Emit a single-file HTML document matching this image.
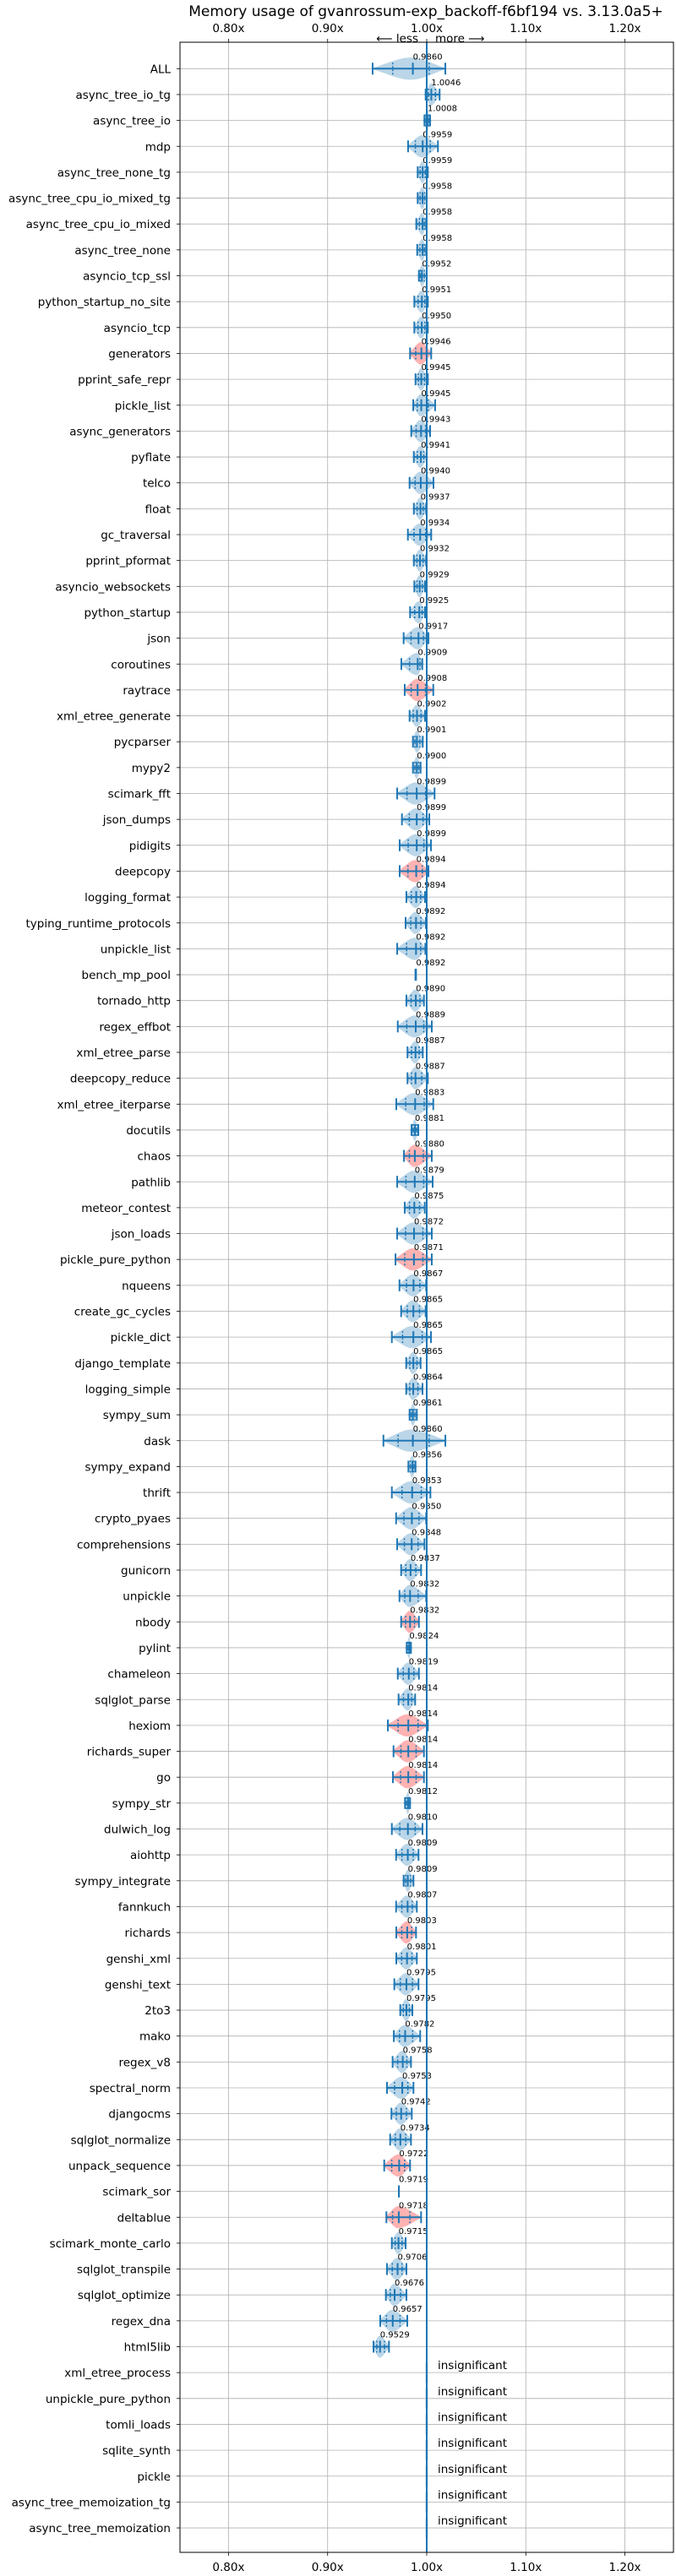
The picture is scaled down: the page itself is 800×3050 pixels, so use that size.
<!DOCTYPE html>
<html><head><meta charset="utf-8"><style>
html,body{margin:0;padding:0;background:#fff;}
svg{display:block;font-family:"DejaVu Sans","Liberation Sans",sans-serif;}
</style></head><body>
<svg id="chart" width="800" height="3050" viewBox="0 0 800 3050" xmlns="http://www.w3.org/2000/svg">
<rect x="0" y="0" width="800" height="3050" fill="#fff"/>
<text x="504" y="19" text-anchor="middle" font-size="17">Memory usage of gvanrossum-exp_backoff-f6bf194 vs. 3.13.0a5+</text>
<g id="grid"></g><g id="marks"></g><g id="axes"></g>
<text x="495" y="50" text-anchor="end" font-size="13.5">⟵ less</text>
<text x="515" y="50" text-anchor="start" font-size="13.5">more ⟶</text>
</svg>
<script>
const benchmarks = ["ALL","async_tree_io_tg","async_tree_io","mdp","async_tree_none_tg","async_tree_cpu_io_mixed_tg","async_tree_cpu_io_mixed","async_tree_none","asyncio_tcp_ssl","python_startup_no_site","asyncio_tcp","generators","pprint_safe_repr","pickle_list","async_generators","pyflate","telco","float","gc_traversal","pprint_pformat","asyncio_websockets","python_startup","json","coroutines","raytrace","xml_etree_generate","pycparser","mypy2","scimark_fft","json_dumps","pidigits","deepcopy","logging_format","typing_runtime_protocols","unpickle_list","bench_mp_pool","tornado_http","regex_effbot","xml_etree_parse","deepcopy_reduce","xml_etree_iterparse","docutils","chaos","pathlib","meteor_contest","json_loads","pickle_pure_python","nqueens","create_gc_cycles","pickle_dict","django_template","logging_simple","sympy_sum","dask","sympy_expand","thrift","crypto_pyaes","comprehensions","gunicorn","unpickle","nbody","pylint","chameleon","sqlglot_parse","hexiom","richards_super","go","sympy_str","dulwich_log","aiohttp","sympy_integrate","fannkuch","richards","genshi_xml","genshi_text","2to3","mako","regex_v8","spectral_norm","djangocms","sqlglot_normalize","unpack_sequence","scimark_sor","deltablue","scimark_monte_carlo","sqlglot_transpile","sqlglot_optimize","regex_dna","html5lib","xml_etree_process","unpickle_pure_python","tomli_loads","sqlite_synth","pickle","async_tree_memoization_tg","async_tree_memoization"];
const means = [0.9860,1.0046,1.0008,0.9959,0.9959,0.9958,0.9958,0.9958,0.9952,0.9951,0.9950,0.9946,0.9945,0.9945,0.9943,0.9941,0.9940,0.9937,0.9934,0.9932,0.9929,0.9925,0.9917,0.9909,0.9908,0.9902,0.9901,0.9900,0.9899,0.9899,0.9899,0.9894,0.9894,0.9892,0.9892,0.9892,0.9890,0.9889,0.9887,0.9887,0.9883,0.9881,0.9880,0.9879,0.9875,0.9872,0.9871,0.9867,0.9865,0.9865,0.9865,0.9864,0.9861,0.9860,0.9856,0.9853,0.9850,0.9848,0.9837,0.9832,0.9832,0.9824,0.9819,0.9814,0.9814,0.9814,0.9814,0.9812,0.9810,0.9809,0.9809,0.9807,0.9803,0.9801,0.9795,0.9795,0.9782,0.9758,0.9753,0.9742,0.9734,0.9722,0.9719,0.9718,0.9715,0.9706,0.9676,0.9657,0.9529,null,null,null,null,null,null,null];
const mins = [0.9454,0.9989,0.9977,0.9812,0.9909,0.9909,0.9895,0.9904,0.9921,0.9875,0.9875,0.9832,0.9887,0.9864,0.9844,0.9870,0.9827,0.9870,0.9810,0.9870,0.9875,0.9832,0.9767,0.9744,0.9778,0.9827,0.9861,0.9861,0.9702,0.9750,0.9727,0.9727,0.9795,0.9787,0.9702,0.9887,0.9795,0.9708,0.9806,0.9806,0.9693,0.9847,0.9770,0.9702,0.9778,0.9702,0.9685,0.9725,0.9742,0.9648,0.9793,0.9793,0.9827,0.9563,0.9815,0.9648,0.9691,0.9702,0.9742,0.9725,0.9742,0.9798,0.9708,0.9716,0.9608,0.9665,0.9659,0.9781,0.9648,0.9691,0.9767,0.9691,0.9693,0.9693,0.9673,0.9733,0.9668,0.9656,0.9599,0.9644,0.9631,0.9571,0.9719,0.9593,0.9648,0.9599,0.9588,0.9531,0.9463];
const maxs = [1.0188,1.0130,1.0034,1.0113,1.0011,1.0000,0.9994,0.9994,1.0000,1.0011,1.0011,1.0045,1.0011,1.0085,1.0034,1.0000,1.0068,0.9994,1.0045,0.9994,0.9983,0.9983,1.0017,0.9955,1.0066,0.9983,0.9960,0.9938,1.0079,1.0026,1.0043,1.0017,0.9983,0.9991,0.9986,0.9887,0.9972,1.0051,0.9960,1.0011,1.0066,0.9915,1.0051,1.0060,0.9980,1.0051,1.0051,0.9994,0.9989,1.0043,0.9938,0.9957,0.9900,1.0188,0.9887,1.0037,0.9994,0.9977,0.9943,0.9994,0.9921,0.9841,0.9921,0.9883,1.0011,0.9972,0.9972,0.9832,0.9957,0.9917,0.9866,0.9900,0.9892,0.9900,0.9917,0.9855,0.9934,0.9841,0.9866,0.9849,0.9841,0.9832,0.9719,0.9943,0.9787,0.9795,0.9795,0.9804,0.9619];
const redRows = ["generators","raytrace","deepcopy","chaos","pickle_pure_python","nbody","hexiom","richards_super","go","richards","unpack_sequence","deltablue"];
const xTicks = [0.8,0.9,1.0,1.1,1.2];
const xTickLabels = ["0.80x","0.90x","1.00x","1.10x","1.20x"];

const NS="http://www.w3.org/2000/svg";
const PL=213, PR=797, PT=50, PB=3022, XMIN=0.751, XMAX=1.249;
const xS = v => PL + (v-XMIN)/(XMAX-XMIN)*(PR-PL);
const yS = i => 81.3 + i*30.65;
function mk(tag, attrs, parent){const e=document.createElementNS(NS,tag);for(const k in attrs)e.setAttribute(k,attrs[k]);parent.appendChild(e);return e;}
const grid=document.getElementById('grid'), marks=document.getElementById('marks'), axes=document.getElementById('axes');

xTicks.forEach((t,i)=>{
  const l=mk('line',{x1:xS(t),x2:xS(t),y1:PT,y2:PB,stroke:'#b0b0b0','stroke-width':0.8},grid);
  
  
  [[PT,PT-4,PT-10],[PB,PB+4,PB+20]].forEach(([a,b,ty])=>{
    const tk=mk('line',{x1:xS(t),x2:xS(t),y1:a,y2:b,stroke:'#000','stroke-width':0.8},axes);
    
    
    const tx=mk('text',{x:xS(t),y:(a===PT?38:3044),'text-anchor':'middle','font-size':13.5},axes);
    
    
    tx.textContent=xTickLabels[i];
  });
});
benchmarks.forEach((b,i)=>{
  const y=yS(i);
  const g=mk('line',{x1:PL,x2:PR,y1:y,y2:y,stroke:'#b0b0b0','stroke-width':0.8},grid);
  
  
  const tk=mk('line',{x1:PL-4,x2:PL,y1:y,y2:y,stroke:'#000','stroke-width':0.8},axes);
  
  
  const t=mk('text',{x:PL-11,y:y+5,'text-anchor':'end','font-size':13.5},axes);
  
  
  t.textContent=b;
});
const C='#1f77b4';
benchmarks.forEach((b,i)=>{
  const y=yS(i), m=means[i];
  if(m===null){
    const r=mk('rect',{x:xS(1.0)-1.5,y:y-12,width:3,height:24,fill:C,opacity:0.3},marks);
    
    
    const t=mk('text',{x:xS(1.0)+13,y:y-4,'font-size':13.5},marks);
    
    
    t.textContent='insignificant';
    return;
  }
  const a=xS(mins[i]), z=xS(maxs[i]), c=xS(m), h=13;
  const red=redRows.includes(b);
  if(z-a>1){
    const p=mk('path',{d:`M${a-2},${y} C${a+(c-a)*0.4},${y-h*0.5} ${c-(c-a)*0.3},${y-h*1.1} ${c},${y-h} C${c+(z-c)*0.4},${y-h*0.9} ${z-(z-c)*0.3},${y-h*0.3} ${z+2},${y} C${z-(z-c)*0.3},${y+h*0.3} ${c+(z-c)*0.4},${y+h*0.9} ${c},${y+h} C${c-(c-a)*0.3},${y+h*1.1} ${a+(c-a)*0.4},${y+h*0.5} ${a-2},${y} Z`,fill:red?'#ff0000':C,opacity:0.3},marks);
    
    
  }
  const w=mk('line',{x1:a,x2:z,y1:y,y2:y,stroke:C,'stroke-width':2},marks);
  
  
  [a,z].forEach(x=>{
    const cp=mk('line',{x1:x,x2:x,y1:y-7,y2:y+7,stroke:C,'stroke-width':2},marks);
    
    
  });
  const mt=mk('line',{x1:c,x2:c,y1:y-7,y2:y+7,stroke:C,'stroke-width':2},marks);
  
  
  [(a+c)/2,(c+z)/2].forEach(x=>{
    const q=mk('line',{x1:x,x2:x,y1:y-7,y2:y+7,stroke:C,'stroke-width':1.5,'stroke-dasharray':'2,2'},marks);
    
    
  });
  const t=mk('text',{x:c,y:y-11,'font-size':10},marks);
  
  
  t.textContent=m.toFixed(4);
});
const ref=mk('line',{x1:xS(1.0),x2:xS(1.0),y1:PT,y2:PB,stroke:C,'stroke-width':2},axes);


const fr=mk('rect',{x:PL,y:PT,width:PR-PL,height:PB-PT,fill:'none',stroke:'#000','stroke-width':1},axes);


</script>
</body></html>
